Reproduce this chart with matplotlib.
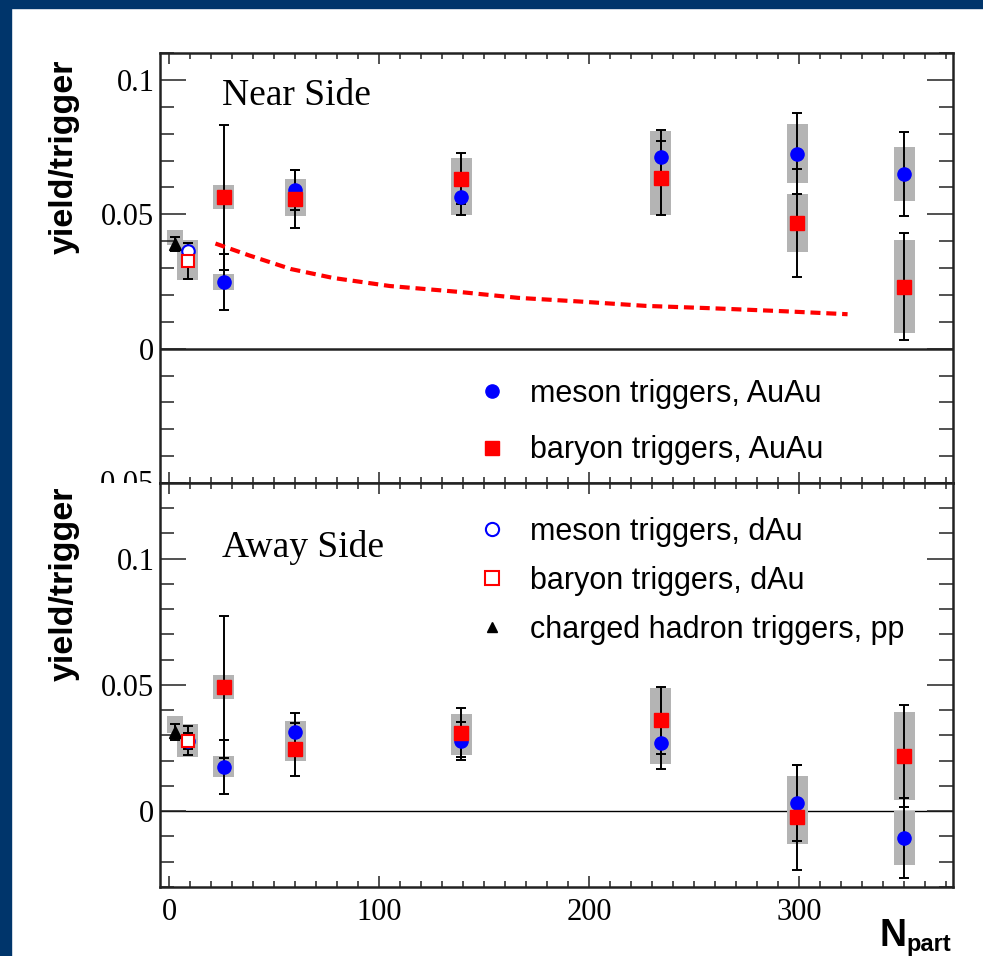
import matplotlib.pyplot as plt
from matplotlib.lines import Line2D
from matplotlib.patches import Rectangle
from matplotlib.ticker import MultipleLocator
from matplotlib.transforms import Bbox, TransformedBbox

plt.rcParams['font.family'] = 'Liberation Serif'

# centrality (Npart) of the AuAu bins, plus dAu and pp reference points
npart_auau = [26, 60, 139, 234, 299, 350]
npart_dau = [8.7]
npart_pp = [2.7]

# ---- near side ----
near_meson = [0.0248, 0.0591, 0.0566, 0.0713, 0.0725, 0.0650]
near_meson_err = [0.0105, 0.0075, 0.0069, 0.0100, 0.0150, 0.0156]
near_meson_sys = [0.0028, 0.0040, 0.0068, 0.0097, 0.0110, 0.0102]
near_baryon = [0.0563, 0.0557, 0.0632, 0.0636, 0.0467, 0.0231]
near_baryon_err = [0.0270, 0.0107, 0.0095, 0.0138, 0.0200, 0.0200]
near_baryon_sys = [0.0045, 0.0063, 0.0079, 0.0138, 0.0108, 0.0174]
near_dau_meson = [0.0363]
near_dau_meson_err = [0.0030]
near_dau_meson_sys = [0.0040]
near_dau_baryon = [0.0326]
near_dau_baryon_err = [0.0066]
near_dau_baryon_sys = [0.0070]
near_pp = [0.0390]
near_pp_err = [0.0027]
near_pp_sys_lo = [0.0385]
near_pp_sys_hi = [0.0442]

# jet-absorption expectation for baryon triggers (near side)
curve_npart = [22, 38, 58, 78, 105, 138, 166, 196, 227, 259, 293, 323]
curve_yield = [0.0391, 0.0347, 0.0296, 0.0263, 0.0233, 0.0211,
               0.0189, 0.0175, 0.0159, 0.0150, 0.0139, 0.0128]

# ---- away side ----
away_meson = [0.0176, 0.0315, 0.0278, 0.0269, 0.0033, -0.0106]
away_meson_err = [0.0108, 0.0073, 0.0075, 0.0100, 0.0150, 0.0159]
away_meson_sys = [0.0042, 0.0042, 0.0054, 0.0081, 0.0106, 0.0106]
away_baryon = [0.0492, 0.0245, 0.0311, 0.0360, -0.0024, 0.0218]
away_baryon_err = [0.0280, 0.0106, 0.0098, 0.0132, 0.0208, 0.0203]
away_baryon_sys = [0.0047, 0.0045, 0.0073, 0.0130, 0.0106, 0.0174]
away_dau_meson = [0.0280]
away_dau_meson_err = [0.0058]
away_dau_meson_sys = [0.0067]
away_dau_baryon = [0.0278]
away_dau_baryon_err = [0.0030]
away_dau_baryon_sys = [0.0060]
away_pp = [0.0315]
away_pp_err = [0.0032]
away_pp_sys_lo = [0.0310]
away_pp_sys_hi = [0.0377]

BLUE = '#0000ff'
RED = '#ff0000'
GRAY = '#b4b4b4'
FRAME = '#222222'
NAVY = '#00356b'
SANS = 'Liberation Sans'


def sys_boxes(ax, x, y, sys, width=10.0):
    ax.bar(x, [2 * s for s in sys], bottom=[v - s for v, s in zip(y, sys)],
           width=width, color=GRAY, linewidth=0, zorder=1)


def stat_bars(ax, x, y, err):
    ax.errorbar(x, y, yerr=err, fmt='none', ecolor='k', elinewidth=1.4,
                capsize=3.6, capthick=1.4, zorder=2)


def draw_panel(ax, meson, meson_err, meson_sys, baryon, baryon_err, baryon_sys,
               dmes, dmes_err, dmes_sys, dbar, dbar_err, dbar_sys,
               pp, pp_err, pp_lo, pp_hi):
    # systematic boxes
    ax.bar(npart_pp, [h - l for l, h in zip(pp_lo, pp_hi)], bottom=pp_lo,
           width=7.6, color=GRAY, linewidth=0, zorder=1)
    sys_boxes(ax, npart_dau, dmes, dmes_sys)
    sys_boxes(ax, npart_dau, dbar, dbar_sys)
    sys_boxes(ax, npart_auau, meson, meson_sys)
    sys_boxes(ax, npart_auau, baryon, baryon_sys)
    # statistical errors
    stat_bars(ax, npart_pp, pp, pp_err)
    stat_bars(ax, npart_dau, dmes, dmes_err)
    stat_bars(ax, npart_dau, dbar, dbar_err)
    stat_bars(ax, npart_auau, meson, meson_err)
    stat_bars(ax, npart_auau, baryon, baryon_err)
    # markers
    ax.plot(npart_pp, pp, '^', color='k', ms=8, ls='none', zorder=4)
    ax.plot(npart_dau, dmes, 'o', mfc='white', mec=BLUE, mew=1.5, ms=9,
            ls='none', zorder=4)
    ax.plot(npart_dau, dbar, 's', mfc='white', mec=RED, mew=1.5, ms=9,
            ls='none', zorder=5)
    ax.plot(npart_auau, meson, 'o', color=BLUE, ms=9.5, ls='none', zorder=4)
    ax.plot(npart_auau, baryon, 's', color=RED, ms=9.5, ls='none', zorder=5)


def style_axis(ax):
    ax.set_xlim(-4.4, 373.2)
    ax.xaxis.set_major_locator(MultipleLocator(100))
    ax.xaxis.set_minor_locator(MultipleLocator(10))
    ax.yaxis.set_minor_locator(MultipleLocator(0.01))
    ax.tick_params(which='both', direction='in', top=True, right=True,
                   color=FRAME, width=1.1, labelsize=22)
    ax.tick_params(axis='y', which='major', length=19, pad=4)
    ax.tick_params(axis='y', which='minor', length=10)
    ax.tick_params(axis='x', which='major', length=8, pad=8)
    ax.tick_params(axis='x', which='minor', length=4.5)
    for sp in ax.spines.values():
        sp.set_linewidth(1.8)
        sp.set_color(FRAME)


fig = plt.figure(figsize=(9.83, 9.56), dpi=100)
fig.patches.append(Rectangle((0, 0), 11 / 983, 1, transform=fig.transFigure,
                             color=NAVY, zorder=0))
fig.patches.append(Rectangle((0, 1 - 8 / 956), 1, 8 / 956,
                             transform=fig.transFigure, color=NAVY, zorder=0))

ax1 = fig.add_axes([0.16277, 0.49477, 0.80671, 0.44979])
ax2 = fig.add_axes([0.16277, 0.07218, 0.80671, 0.42259])

leg_font = {'family': SANS, 'size': 22}

# top panel: near side
draw_panel(ax1, near_meson, near_meson_err, near_meson_sys,
           near_baryon, near_baryon_err, near_baryon_sys,
           near_dau_meson, near_dau_meson_err, near_dau_meson_sys,
           near_dau_baryon, near_dau_baryon_err, near_dau_baryon_sys,
           near_pp, near_pp_err, near_pp_sys_lo, near_pp_sys_hi)
ax1.plot(curve_npart, curve_yield, color=RED, lw=3, ls=(0, (2.4, 1.4)),
         zorder=3)
ax1.axhline(0, color=FRAME, lw=1.8, zorder=0.5)
style_axis(ax1)
ax1.set_ylim(-0.05, 0.11)
ax1.set_yticks([-0.05, 0, 0.05, 0.1], ['', '0', '0.05', '0.1'])
ax1.tick_params(axis='x', labelbottom=False)
ax1.text(0.078, 0.9, 'Near Side', transform=ax1.transAxes, fontsize=27,
         ha='left', va='center')
ax1.set_ylabel('yield/trigger', family=SANS, fontweight='bold', fontsize=24.5)
ax1.yaxis.set_label_coords(-0.101, 0.758)

ax1.legend(
    [Line2D([], [], marker='o', color=BLUE, ls='none', ms=9.5),
     Line2D([], [], marker='s', color=RED, ls='none', ms=9.5)],
    ['meson triggers, AuAu', 'baryon triggers, AuAu'],
    loc='upper left', bbox_to_anchor=(0.3994, 0.2428), frameon=False,
    borderpad=0, borderaxespad=0, handlelength=1.0, handletextpad=0.743,
    labelspacing=0.88, prop=leg_font)

# the -0.05 label of the upper panel is cut by the lower panel
lab = fig.text(154 / 983, 1 - 484.5 / 956, '-0.05', fontsize=22,
               ha='right', va='center')
lab.set_clip_box(TransformedBbox(Bbox.from_extents(0, 0.49477, 1, 1),
                                 fig.transFigure))
lab.set_clip_on(True)

# bottom panel: away side
draw_panel(ax2, away_meson, away_meson_err, away_meson_sys,
           away_baryon, away_baryon_err, away_baryon_sys,
           away_dau_meson, away_dau_meson_err, away_dau_meson_sys,
           away_dau_baryon, away_dau_baryon_err, away_dau_baryon_sys,
           away_pp, away_pp_err, away_pp_sys_lo, away_pp_sys_hi)
ax2.axhline(0, color='k', lw=1.0, zorder=0.5)
style_axis(ax2)
ax2.set_ylim(-0.03, 0.13)
ax2.set_yticks([0, 0.05, 0.1], ['0', '0.05', '0.1'])
ax2.text(0.078, 0.84, 'Away Side', transform=ax2.transAxes, fontsize=27,
         ha='left', va='center')
ax2.set_ylabel('yield/trigger', family=SANS, fontweight='bold', fontsize=24.5)
ax2.yaxis.set_label_coords(-0.101, 0.75)

ax2.legend(
    [Line2D([], [], marker='o', mfc='white', mec=BLUE, mew=1.5, ls='none', ms=9.5),
     Line2D([], [], marker='s', mfc='white', mec=RED, mew=1.5, ls='none', ms=9.5),
     Line2D([], [], marker='^', color='k', ls='none', ms=7.5)],
    ['meson triggers, dAu', 'baryon triggers, dAu',
     'charged hadron triggers, pp'],
    loc='upper left', bbox_to_anchor=(0.3994, 0.9166), frameon=False,
    borderpad=0, borderaxespad=0, handlelength=1.0, handletextpad=0.743,
    labelspacing=0.62, prop=leg_font)

fig.text(880 / 983, 1 - 946 / 956, 'N', family=SANS, fontweight='bold',
         fontsize=27, ha='left', va='baseline')
fig.text(906 / 983, 1 - 951 / 956, 'part', family=SANS, fontweight='bold',
         fontsize=17, ha='left', va='baseline')

fig.savefig('out.png', dpi=100, facecolor='white')
